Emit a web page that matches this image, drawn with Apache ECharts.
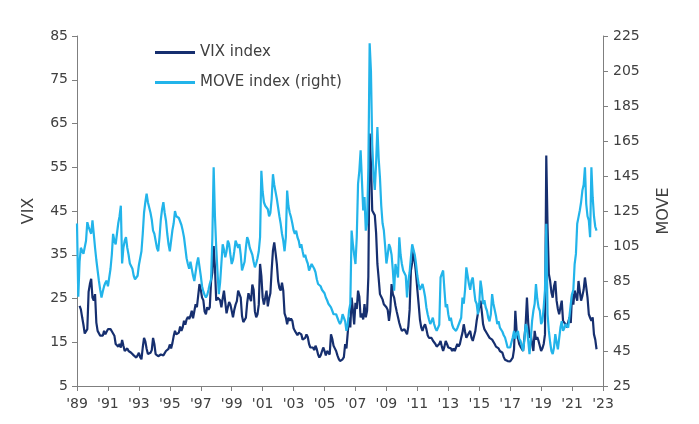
<!DOCTYPE html>
<html><head><meta charset="utf-8">
<script src="https://cdn.jsdelivr.net/npm/echarts@6/dist/echarts.min.js"></script>
<style>html,body{margin:0;padding:0;background:#fff}#c{width:699px;height:424px}</style>
</head><body><div id="c"></div>
<script>
// Monthly categories: axis runs Nov 1989 .. Nov 2023, labelled every 24 months
const axisStart = [1989, 11];
const axisEnd = [2023, 11];
const vixStart = '1990-01';
const moveStart = '1989-11';
const seriesNames = ['VIX index', 'MOVE index (right)'];
const leftAxis = {min: 5, max: 85, interval: 10};
const rightAxis = {min: 25, max: 225, interval: 20};

const vix = [
 23.3,22.5,20.7,19.0,17.0,16.9,18.0,26.5,28.3,29.5,25.2,24.5, // 1990
 26.0,19.5,17.6,17.5,16.5,16.8,16.5,17.6,16.8,17.2,18.0,18.4,
 18.0,17.5,17.2,16.5,14.6,14.5,14.0,14.6,13.8,15.5,14.2,13.0,
 13.0,13.6,13.0,13.4,12.6,12.4,12.0,12.2,11.5,12.0,12.6,11.6,
 11.1,13.8,16.0,15.2,13.5,12.3,12.0,12.6,13.2,16.0,14.6,12.3,
 12.2,11.8,11.5,12.2,12.6,12.0,11.6,13.0,12.8,13.5,14.5,13.6, // 1995
 14.8,16.4,17.6,16.8,16.4,17.2,18.6,17.6,18.4,19.9,19.0,20.2,
 20.8,20.3,21.0,22.2,20.5,20.2,23.7,23.0,23.4,28.3,27.0,25.2,
 24.6,22.0,21.4,23.0,22.4,23.0,29.0,31.0,37.0,32.0,24.5,25.2,
 25.5,24.6,23.0,25.0,26.8,24.2,21.6,23.0,24.2,23.6,22.2,20.7,
 22.4,23.6,24.4,26.8,26.0,25.2,21.0,19.6,19.9,20.6,24.0,26.2, // 2000
 25.2,24.4,28.2,27.0,22.0,20.7,21.4,23.6,32.9,30.2,25.2,23.6,
 24.0,26.8,23.2,25.0,26.2,31.5,36.0,37.8,35.5,32.9,29.0,27.4,
 26.8,28.6,26.8,21.6,20.7,19.1,20.6,19.9,20.4,19.9,18.2,17.6,
 17.6,16.6,17.2,16.8,16.8,15.6,15.3,16.0,16.8,16.2,14.6,13.8,
 13.6,13.8,13.2,14.2,13.4,12.2,11.5,12.0,12.4,13.8,13.0,12.0, // 2005
 13.0,12.6,12.2,16.8,15.8,14.2,13.6,13.0,12.0,11.2,10.7,11.0,
 11.1,11.6,14.6,13.6,14.0,20.7,18.4,25.2,22.4,19.1,24.0,22.6,
 26.8,25.4,20.7,21.6,20.2,23.7,20.7,22.2,30.0,62.7,56.0,45.1,
 45.1,44.0,40.0,32.9,29.6,26.0,25.4,24.8,23.7,23.6,23.0,22.4,
 19.9,22.2,28.3,26.0,25.2,23.4,22.0,20.7,19.4,18.4,17.6,18.0, // 2010
 18.0,17.4,16.8,18.6,22.4,31.4,33.2,35.9,33.4,30.6,27.0,23.7,
 20.2,18.4,17.6,18.6,19.1,18.0,16.6,16.0,15.6,16.0,15.4,15.3,
 14.6,14.0,13.8,14.6,15.3,14.0,13.0,14.0,15.3,14.6,13.8,14.0,
 13.6,13.0,13.6,13.0,12.6,14.6,14.0,14.6,16.0,17.2,19.1,17.4,
 16.0,16.6,16.2,17.6,16.0,15.3,15.2,17.6,19.9,21.6,23.0,24.5, // 2015
 22.0,19.1,18.0,17.6,17.0,16.6,16.0,16.2,15.6,15.3,14.6,14.0,
 13.8,13.6,13.0,13.2,12.6,11.6,11.0,11.2,10.7,10.7,10.6,10.8,
 11.5,13.4,22.2,17.6,16.0,14.6,14.0,13.6,13.0,16.0,19.0,25.2,
 19.4,16.0,16.8,14.6,13.0,17.6,15.6,16.2,15.3,15.0,13.0,13.6,
 14.6,16.8,57.7,41.3,30.6,29.0,26.4,25.2,27.8,29.0,24.5,22.6, // 2020
 21.4,23.0,24.5,19.9,19.6,19.1,18.4,18.0,20.7,19.4,26.0,23.6,
 26.8,25.6,24.5,29.0,26.6,24.5,25.6,27.0,29.8,27.6,25.2,21.4,
 20.6,19.9,20.7,16.8,15.6,13.4
];

const move = [
 117.8,76.0, // Nov-Dec 1989
 96,104,103,100.6,101,108,118.6,116,113.8,112,119.6,112, // 1990
 104,97,91,85,80,75.6,79,82,84,85.2,82,81.3,
 92,100,111.9,108,106,112,118,122,128,95,104,108,
 110,104,100,95,96,92,88,86,85,88,94,95,
 102,112,124,130,134.9,130,129,124,120,113.8,112,108,
 104,102,110,120,126,130,124,119.6,112,106,102,108, // 1995
 114,118,125,122,121,121,120,117,113.8,110,104,98,
 94.7,92,96,92,88,85,90,95,98.5,98,88,82,
 79,77,75.6,77,80,83.4,86,110,150,122,104,90,
 77.5,84,95,106,103,98.5,102,108,106,100,94.7,97,
 102,108,106,104,106,100,91,92,96,104,110,108, // 2000
 104,102,100,96,92.8,95,98,102,110,148,136,130,
 128,129,126,122,124,132,146,140,136,132,127,122,
 117.7,112,108,102,110,136.7,128,124,121.5,118,114,112,
 113.8,110,108,104,106,102,98.5,100,97,95,91,92,
 94.7,95,92,90,86,83.3,84,82,80,79.4,78,75.6, // 2005
 74,72,71,69.9,68,66,67,66,64,62,60.4,62,
 66,64,62,56.5,60,68,72,113.8,106,100,94.7,110,
 140.5,148,159.7,142.5,125.3,133,113.8,118,150,220.8,205,163,
 146,137,152,173,155,144,128,118,114,105,95,100,
 106,104,100,91,79.4,94.7,94,87,110,100,94.7,91, // 2010
 91,88,75.6,85,90,98.5,106,106.2,100,94.7,88,83.3,
 80,79.4,83.3,80,76,69.9,66,63,60.4,62,64,60.4,
 58,56.5,57,60,87,89,91,80,70,71.8,66,62.2,
 64,60,58,57,56.5,58,60,62,64,75.6,72,80,
 92.8,88,83.3,80,85.2,87,80,73.7,72,66,72,85.2, // 2015
 80,71.8,74,70,68,64,62,66,77.5,72,71.8,65,
 60.4,62,58.4,58,56,54,52.7,50,47,48,47,50,
 52.7,56.5,52,55,56.5,52,50.8,48,45,51,60.4,58.4,
 50.8,43.2,52,62.2,68,72,83.3,75,69.9,68,60.4,62,
 69.9,80,117.7,66,56.5,50,45,43.2,47,54.6,50,46, // 2020
 47,58.4,62,56.5,58,60.4,60,58.4,58,71.8,77.5,80,
 94.7,100.5,117.7,121.5,125.3,130,136.7,140,150,129,122,119.6,
 110,150,132.9,122,116,113.8
];

// build month categories
const months = [];
for (let y = axisStart[0], m = axisStart[1]; y < axisEnd[0] || (y === axisEnd[0] && m <= axisEnd[1]); ) {
  months.push(y + '-' + String(m).padStart(2, '0'));
  m++; if (m > 12) { m = 1; y++; }
}
function place(values, start) {
  const out = new Array(months.length).fill(null);
  const s = months.indexOf(start);
  values.forEach((v, k) => { out[s + k] = v; });
  return out;
}

const FONT = 'DejaVu Sans';
const TXT = '#404040';
const AX = '#7f7f7f';
const chart = echarts.init(document.getElementById('c'), null, {renderer: 'canvas'});
chart.setOption({
  animation: false,
  backgroundColor: '#fff',
  grid: {left: 77, right: 96, top: 36, bottom: 38, containLabel: false},
  legend: {
    orient: 'vertical', left: 150, top: 40, itemWidth: 40, itemHeight: 3, itemGap: 15,
    icon: 'rect', data: seriesNames,
    textStyle: {fontFamily: FONT, fontSize: 15, color: TXT}
  },
  xAxis: {
    type: 'category', data: months, boundaryGap: false,
    axisLine: {lineStyle: {color: AX, width: 1}},
    axisTick: {interval: 23, length: 5, lineStyle: {color: AX}},
    axisLabel: {interval: 23, formatter: v => "'" + v.slice(2, 4), fontFamily: FONT, fontSize: 14, color: TXT, margin: 11},
    splitLine: {show: false}
  },
  yAxis: [
    {type: 'value', position: 'left', min: leftAxis.min, max: leftAxis.max, interval: leftAxis.interval,
     name: 'VIX', nameLocation: 'middle', nameGap: 40, nameRotate: 90,
     nameTextStyle: {fontFamily: FONT, fontSize: 16, color: TXT},
     axisLine: {show: true, lineStyle: {color: AX}},
     axisTick: {show: true, length: 5, lineStyle: {color: AX}},
     axisLabel: {fontFamily: FONT, fontSize: 14, color: TXT, margin: 9},
     splitLine: {show: false}},
    {type: 'value', position: 'right', min: rightAxis.min, max: rightAxis.max, interval: rightAxis.interval,
     name: 'MOVE', nameLocation: 'middle', nameGap: 53, nameRotate: 90,
     nameTextStyle: {fontFamily: FONT, fontSize: 16, color: TXT},
     axisLine: {show: true, lineStyle: {color: AX}},
     axisTick: {show: true, length: 5, lineStyle: {color: AX}},
     axisLabel: {fontFamily: FONT, fontSize: 14, color: TXT, margin: 10},
     splitLine: {show: false}}
  ],
  series: [
    {name: seriesNames[0], type: 'line', yAxisIndex: 0, data: place(vix, vixStart),
     symbol: 'none', connectNulls: false, color: '#162f6f', lineStyle: {width: 2.2, color: '#162f6f'}},
    {name: seriesNames[1], type: 'line', yAxisIndex: 1, data: place(move, moveStart),
     symbol: 'none', connectNulls: false, color: '#22b4ea', lineStyle: {width: 2.2, color: '#22b4ea'}}
  ]
});
</script></body></html>
